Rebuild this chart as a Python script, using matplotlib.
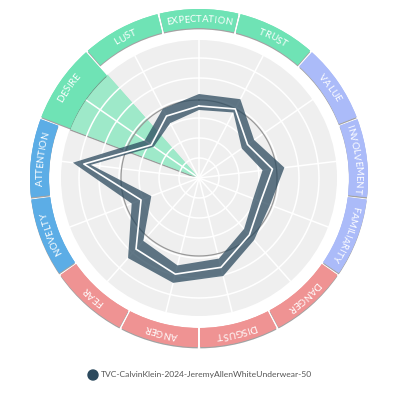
import numpy as np
import matplotlib
matplotlib.use("Agg")
import matplotlib.pyplot as plt
from matplotlib.path import Path
from matplotlib.patches import PathPatch, Circle
from matplotlib.font_manager import FontProperties
import matplotlib.patheffects as pe

# categories clockwise from the top
categories = ["EXPECTATION", "TRUST", "VALUE", "INVOLVEMENT", "FAMILIARITY",
              "DANGER", "DISGUST", "ANGER", "FEAR", "NOVELTY", "ATTENTION",
              "DESIRE", "LUST"]
groups = ["green", "green", "violet", "violet", "violet", "red", "red", "red",
          "red", "blue", "blue", "green", "green"]

# band (low / high) and mean line, in grid units (grid rings at 1..6)
low = [3.4, 3.7, 2.6, 3.2, 2.9, 3.4, 4.15, 4.5, 4.2, 2.55, 5.45, 2.75, 3.1]
mean = [3.6, 3.9, 2.95, 3.7, 3.3, 3.8, 4.6, 4.95, 4.75, 3.1, 5.8, 2.9, 3.5]
high = [4.2, 4.45, 3.35, 4.3, 3.8, 4.15, 5.05, 5.4, 5.35, 3.6, 6.35, 3.3, 3.9]
reference = 3.9
highlight = "DESIRE"
series_name = "TVC-CalvinKlein-2024-JeremyAllenWhiteUnderwear-50"

group_colors = {"green": "#6fe3b5", "violet": "#abbbf9",
                "red": "#ef9393", "blue": "#5cade6"}
wedge_color = "#9ee9c9"
band_color = "#2c4a5e"

disk_r = 6.9
ring_in, ring_out = 7.5, 8.45
rmax = 8.6
px_per_unit = 20.0

fig = plt.figure(figsize=(4, 4), dpi=100)
cx, cy = 199 / 400, 1 - 178 / 400
half = rmax * px_per_unit / 400
ax = fig.add_axes([cx - half, cy - half, 2 * half, 2 * half], projection="polar")
ax.set_theta_zero_location("N")
ax.set_theta_direction(-1)
ax.set_ylim(0, rmax)
ax.axis("off")

n = len(categories)
step = 2 * np.pi / n
theta = np.arange(n) * step
shadow = [pe.withSimplePatchShadow(offset=(0, -1), shadow_rgbFace="#333333", alpha=0.45), pe.Normal()]

# grey disk
ax.bar(0, disk_r, width=2 * np.pi, bottom=0, color="#efefef", edgecolor="none", zorder=1)

# highlighted category wedge
hi_idx = categories.index(highlight)
ax.bar(theta[hi_idx], disk_r, width=step, bottom=0, color=wedge_color,
       edgecolor="none", zorder=1.5, path_effects=shadow)

# grid
circ = np.linspace(0, 2 * np.pi, 361)
for r in range(1, 7):
    ax.plot(circ, np.full_like(circ, r), color="white", lw=1.1, zorder=2)
for t in theta:
    ax.plot([t, t], [0, disk_r], color="white", lw=1.1, zorder=2)

# reference circle
ax.plot(circ, np.full_like(circ, reference), color="#999999", lw=0.9, zorder=2.5)

# band between low and high
tc = np.r_[theta, theta[0]]
outer = np.column_stack([tc, np.r_[high, high[0]]])
inner = np.column_stack([tc[::-1], np.r_[low, low[0]][::-1]])
verts = np.vstack([outer, inner])
codes = ([Path.MOVETO] + [Path.LINETO] * (len(outer) - 2) + [Path.CLOSEPOLY]) * 2
ax.add_patch(PathPatch(Path(verts, codes), facecolor=band_color, alpha=0.75,
                       edgecolor="none", zorder=3))
ax.plot(tc, np.r_[mean, mean[0]], color="white", lw=1.2, zorder=4)

# outer ring segments
for i, cat in enumerate(categories):
    bottom = disk_r if cat == highlight else ring_in
    ax.bar(theta[i], ring_out - bottom, width=step - 0.014, bottom=bottom,
           color=group_colors[groups[i]], edgecolor="none", zorder=5, path_effects=shadow)

# curved labels
fp = FontProperties(family=["Lato", "DejaVu Sans"], size=7)
fig.canvas.draw()
renderer = fig.canvas.get_renderer()
label_r = 7.93
for i, cat in enumerate(categories):
    widths = [0.0] + [renderer.get_text_width_height_descent(cat[:k], fp, ismath=False)[0]
                      for k in range(1, len(cat) + 1)]
    total = widths[-1]
    for k, ch in enumerate(cat):
        offset = (widths[k] + widths[k + 1]) / 2 - total / 2
        th = theta[i] + offset / (label_r * px_per_unit)
        ax.text(th, label_r, ch, rotation=-np.degrees(th), rotation_mode="anchor",
                ha="center", va="center", fontproperties=fp, color="white", zorder=6)

# legend
fig.add_artist(Circle((93 / 400, 1 - 375 / 400), 5 / 400, transform=fig.transFigure,
                      color=band_color))
fig.text(101 / 400, 1 - 375 / 400, series_name, fontsize=6.1, color="#555555",
         family=["Lato", "DejaVu Sans"], va="center", ha="left")

fig.savefig("out.png", dpi=100)
